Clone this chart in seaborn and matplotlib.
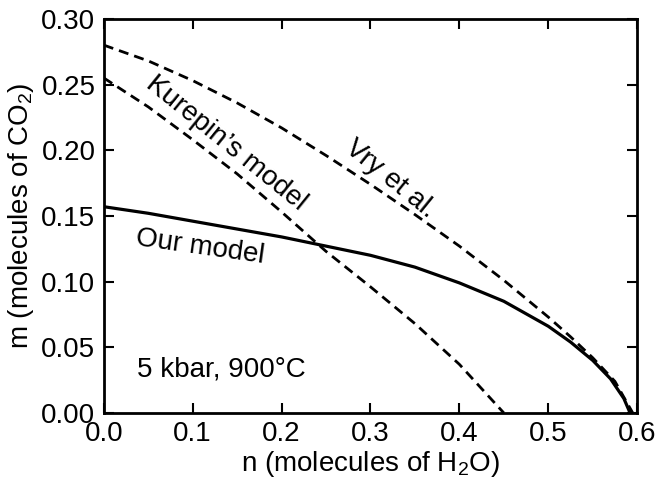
import numpy as np
import pandas as pd
import seaborn as sns
import matplotlib.pyplot as plt

# curves (n = H2O, m = CO2)
n_our = [0.0, 0.05, 0.1, 0.15, 0.2, 0.25, 0.3, 0.35, 0.4, 0.45, 0.5, 0.525, 0.55, 0.57, 0.585, 0.592]
m_our = [0.157, 0.152, 0.146, 0.140, 0.134, 0.127, 0.120, 0.111, 0.099, 0.085, 0.066, 0.054, 0.040, 0.026, 0.011, 0.0]

n_kur = [0.0, 0.05, 0.1, 0.15, 0.2, 0.25, 0.3, 0.35, 0.4, 0.45]
m_kur = [0.255, 0.233, 0.208, 0.182, 0.153, 0.123, 0.096, 0.068, 0.037, 0.0]

n_vry = [0.0, 0.05, 0.1, 0.15, 0.2, 0.25, 0.3, 0.35, 0.4, 0.45, 0.5, 0.525, 0.55, 0.575, 0.595]
m_vry = [0.280, 0.268, 0.253, 0.236, 0.217, 0.196, 0.174, 0.151, 0.127, 0.101, 0.073, 0.058, 0.042, 0.024, 0.0]

x_ticks = [0.0, 0.1, 0.2, 0.3, 0.4, 0.5, 0.6]
y_ticks = [0.00, 0.05, 0.10, 0.15, 0.20, 0.25, 0.30]

sns.set_style("ticks")
plt.rcParams['font.family'] = ['Liberation Sans', 'DejaVu Sans']
plt.rcParams['mathtext.fontset'] = 'custom'
plt.rcParams['mathtext.rm'] = 'Liberation Sans'
plt.rcParams['mathtext.it'] = 'Liberation Sans:italic'
plt.rcParams['text.color'] = 'black'
plt.rcParams['axes.labelcolor'] = 'black'
plt.rcParams['xtick.color'] = 'black'
plt.rcParams['ytick.color'] = 'black'

fig = plt.figure(figsize=(6.61, 4.83), dpi=100)
ax = fig.add_axes([0.157, 0.145, 0.807, 0.816])

dash = (0, (3.6, 2.2))
sns.lineplot(x=n_vry, y=m_vry, ax=ax, color='black', lw=2.0, linestyle=dash)
sns.lineplot(x=n_kur, y=m_kur, ax=ax, color='black', lw=2.0, linestyle=dash)
sns.lineplot(x=n_our, y=m_our, ax=ax, color='black', lw=2.3)

ax.set_xlim(0, 0.6)
ax.set_ylim(0, 0.30)
ax.set_xticks(x_ticks)
ax.set_xticklabels(['%.1f' % v for v in x_ticks])
ax.set_yticks(y_ticks)
ax.set_yticklabels(['%.2f' % v for v in y_ticks])
ax.tick_params(direction='in', length=7, width=1.5, labelsize=20,
               top=True, right=True, pad=6)
for s in ax.spines.values():
    s.set_linewidth(2)
    s.set_color('black')

ax.set_xlabel('n (molecules of H$_\\mathrm{2}$O)', fontsize=20, labelpad=1)
ax.set_ylabel('m (molecules of CO$_\\mathrm{2}$)', fontsize=20, labelpad=4)

ax.text(0.138, 0.205, 'Kurepin\u2019s model', fontsize=20, rotation=-39,
        ha='center', va='center')
ax.text(0.322, 0.178, 'Vry et al.', fontsize=20, rotation=-39,
        ha='center', va='center')
ax.text(0.108, 0.126, 'Our model', fontsize=20, rotation=-8,
        ha='center', va='center')
ax.text(0.037, 0.033, '5 kbar, 900\u00b0C', fontsize=20, ha='left', va='center')

fig.savefig('out.png', dpi=100)
